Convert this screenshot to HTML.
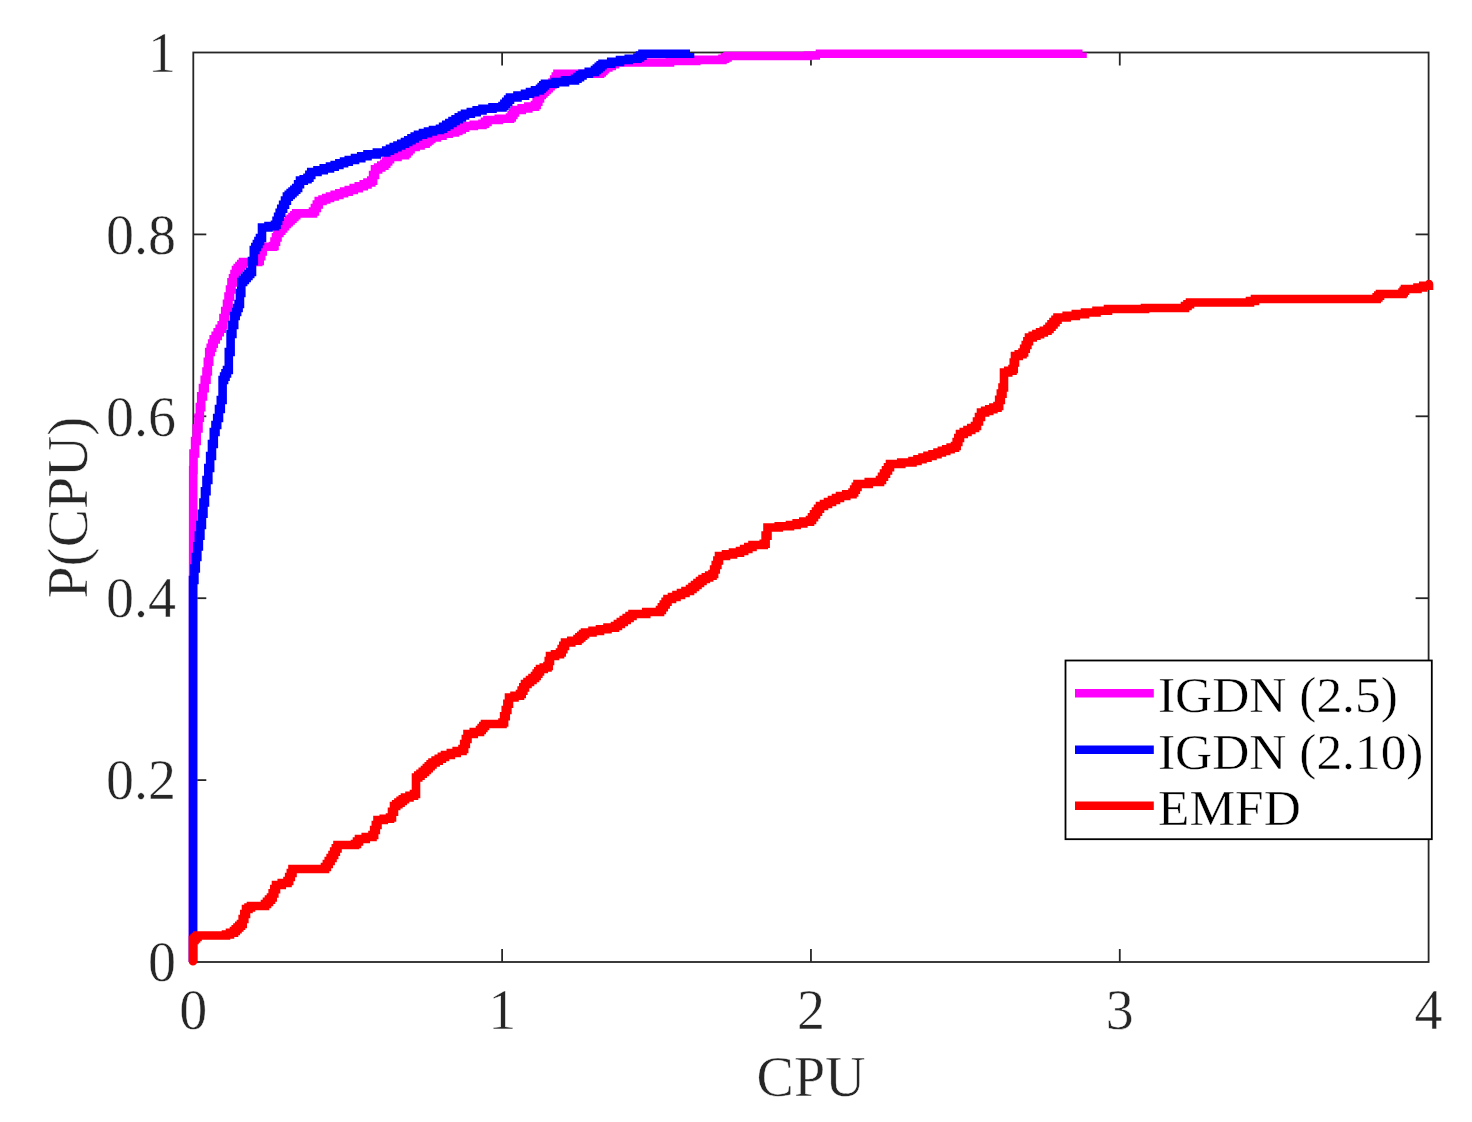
<!DOCTYPE html>
<html><head><meta charset="utf-8"><title>CPU performance profile</title>
<style>
html,body{margin:0;padding:0;background:#fff}
svg{display:block}
text{font-family:"Liberation Serif","Times New Roman",serif}
</style></head>
<body>
<svg width="1472" height="1122" viewBox="0 0 1472 1122">
<rect x="0" y="0" width="1472" height="1122" fill="#fff"/>
<g stroke="#262626" stroke-width="1.8" fill="none">
<rect x="193.3" y="52.5" width="1235.3" height="909.5"/>
<line x1="502.125" y1="962" x2="502.125" y2="949"/><line x1="502.125" y1="52.5" x2="502.125" y2="65.5"/><line x1="810.95" y1="962" x2="810.95" y2="949"/><line x1="810.95" y1="52.5" x2="810.95" y2="65.5"/><line x1="1119.77" y1="962" x2="1119.77" y2="949"/><line x1="1119.77" y1="52.5" x2="1119.77" y2="65.5"/><line x1="193.3" y1="780.1" x2="206.3" y2="780.1"/><line x1="1428.6" y1="780.1" x2="1415.6" y2="780.1"/><line x1="193.3" y1="598.2" x2="206.3" y2="598.2"/><line x1="1428.6" y1="598.2" x2="1415.6" y2="598.2"/><line x1="193.3" y1="416.3" x2="206.3" y2="416.3"/><line x1="1428.6" y1="416.3" x2="1415.6" y2="416.3"/><line x1="193.3" y1="234.4" x2="206.3" y2="234.4"/><line x1="1428.6" y1="234.4" x2="1415.6" y2="234.4"/>
</g>
<g fill="none" stroke-width="8.6" stroke-linejoin="miter" stroke-linecap="butt">
<polyline stroke="#ff00ff" points="193.00,962.00 193.20,470.00 193.50,470.00 193.50,453.50 195.10,453.50 195.10,441.00 196.70,441.00 196.70,428.50 198.50,428.50 198.50,417.80 199.85,417.80 199.85,407.10 201.20,407.10 201.20,396.40 202.97,396.40 202.97,388.10 204.73,388.10 204.73,379.80 206.50,379.80 206.50,371.50 207.85,371.50 207.85,361.75 209.20,361.75 209.20,352.00 210.70,352.00 210.70,347.80 212.20,347.80 212.20,343.60 213.70,343.60 213.70,339.40 215.70,339.40 215.70,335.85 217.70,335.85 217.70,332.30 219.70,332.30 219.70,328.75 221.70,328.75 221.70,325.20 223.47,325.20 223.47,318.07 225.23,318.07 225.23,310.93 227.00,310.93 227.00,303.80 228.50,303.80 228.50,296.67 230.00,296.67 230.00,289.53 231.50,289.53 231.50,282.40 233.00,282.40 233.00,278.27 234.50,278.27 234.50,274.13 236.00,274.13 236.00,270.00 237.75,270.00 237.75,268.00 239.50,268.00 239.50,266.00 241.25,266.00 241.25,264.00 243.00,264.00 243.00,262.00 258.20,262.00 258.20,261.00 259.70,261.00 259.70,256.23 261.20,256.23 261.20,251.47 262.70,251.47 262.70,246.70 273.00,246.70 273.00,246.00 274.50,246.00 274.50,241.67 276.00,241.67 276.00,237.33 277.50,237.33 277.50,233.00 279.38,233.00 279.38,230.75 281.25,230.75 281.25,228.50 283.12,228.50 283.12,226.25 285.00,226.25 285.00,224.00 286.88,224.00 286.88,222.25 288.75,222.25 288.75,220.50 290.62,220.50 290.62,218.75 292.50,218.75 292.50,217.00 294.38,217.00 294.38,215.20 296.25,215.20 296.25,213.40 313.00,213.40 313.00,211.50 314.92,211.50 314.92,208.00 316.83,208.00 316.83,204.50 318.75,204.50 318.75,201.00 322.50,201.00 322.50,199.50 326.25,199.50 326.25,198.00 330.00,198.00 330.00,196.50 334.69,196.50 334.69,194.88 339.38,194.88 339.38,193.25 344.06,193.25 344.06,191.62 348.75,191.62 348.75,190.00 353.75,190.00 353.75,188.13 358.75,188.13 358.75,186.27 363.75,186.27 363.75,184.40 367.50,184.40 367.50,182.50 371.25,182.50 371.25,180.60 373.12,180.60 373.12,175.00 375.00,175.00 375.00,169.40 378.13,169.40 378.13,167.52 381.27,167.52 381.27,165.63 384.40,165.63 384.40,163.75 386.27,163.75 386.27,161.50 388.13,161.50 388.13,159.25 390.00,159.25 390.00,157.00 397.50,157.00 397.50,155.20 405.00,155.20 405.00,153.40 406.87,153.40 406.87,151.27 408.73,151.27 408.73,149.13 410.60,149.13 410.60,147.00 415.60,147.00 415.60,145.33 420.60,145.33 420.60,143.67 425.60,143.67 425.60,142.00 427.48,142.00 427.48,140.50 429.37,140.50 429.37,139.00 431.25,139.00 431.25,137.50 436.88,137.50 436.88,135.62 442.50,135.62 442.50,133.75 448.75,133.75 448.75,132.38 455.00,132.38 455.00,131.00 458.33,131.00 458.33,129.33 461.67,129.33 461.67,127.67 465.00,127.67 465.00,126.00 473.75,126.00 473.75,124.88 482.50,124.88 482.50,123.75 485.00,123.75 485.00,121.88 487.50,121.88 487.50,120.00 498.75,120.00 498.75,118.75 510.00,118.75 510.00,117.50 511.67,117.50 511.67,115.00 513.33,115.00 513.33,112.50 515.00,112.50 515.00,110.00 521.67,110.00 521.67,108.33 528.33,108.33 528.33,106.67 535.00,106.67 535.00,105.00 536.67,105.00 536.67,101.67 538.33,101.67 538.33,98.33 540.00,98.33 540.00,95.00 541.67,95.00 541.67,93.33 543.33,93.33 543.33,91.67 545.00,91.67 545.00,90.00 546.88,90.00 546.88,88.12 548.75,88.12 548.75,86.25 550.62,86.25 550.62,84.38 552.50,84.38 552.50,82.50 554.17,82.50 554.17,79.58 555.83,79.58 555.83,76.67 557.50,76.67 557.50,73.75 600.00,73.75 600.00,72.50 601.67,72.50 601.67,70.83 603.33,70.83 603.33,69.17 605.00,69.17 605.00,67.50 608.33,67.50 608.33,65.83 611.67,65.83 611.67,64.17 615.00,64.17 615.00,62.50 670.00,62.50 670.00,61.00 696.25,61.00 696.25,59.88 722.50,59.88 722.50,58.75 725.00,58.75 725.00,57.38 727.50,57.38 727.50,56.00 808.00,56.00 808.00,55.50 820.00,55.50 820.00,56.00 820.00,53.75 1075.00,53.75 1082.50,53.75 1082.50,52.50"/>
<polyline stroke="#0000ff" points="193.00,962.00 193.00,580.00 194.40,580.00 194.40,568.50 195.80,568.50 195.80,557.00 197.33,557.00 197.33,546.33 198.87,546.33 198.87,535.67 200.40,535.67 200.40,525.00 201.93,525.00 201.93,513.75 203.45,513.75 203.45,502.50 204.97,502.50 204.97,491.25 206.50,491.25 206.50,480.00 208.32,480.00 208.32,468.00 210.15,468.00 210.15,456.00 211.98,456.00 211.98,444.00 213.80,444.00 213.80,432.00 215.50,432.00 215.50,425.00 217.20,425.00 217.20,418.00 219.00,418.00 219.00,409.00 220.80,409.00 220.80,400.00 222.60,400.00 222.60,380.00 224.07,380.00 224.07,376.67 225.53,376.67 225.53,373.33 227.00,373.33 227.00,370.00 228.80,370.00 228.80,352.00 230.60,352.00 230.60,334.00 232.40,334.00 232.40,325.00 234.20,325.00 234.20,316.00 235.67,316.00 235.67,312.00 237.13,312.00 237.13,308.00 238.60,308.00 238.60,304.00 239.95,304.00 239.95,293.00 241.30,293.00 241.30,282.00 243.08,282.00 243.08,280.00 244.86,280.00 244.86,278.00 246.64,278.00 246.64,276.00 248.42,276.00 248.42,274.00 250.20,274.00 250.20,272.00 252.00,272.00 252.00,261.00 253.80,261.00 253.80,250.00 255.35,250.00 255.35,247.00 256.90,247.00 256.90,244.00 258.45,244.00 258.45,241.00 260.00,241.00 260.00,238.00 262.00,238.00 262.00,227.50 268.50,227.50 268.50,226.10 275.00,226.10 275.00,224.70 276.56,224.70 276.56,220.71 278.12,220.71 278.12,216.72 279.69,216.72 279.69,212.74 281.25,212.74 281.25,208.75 283.13,208.75 283.13,204.70 285.02,204.70 285.02,200.65 286.90,200.65 286.90,196.60 288.77,196.60 288.77,194.88 290.64,194.88 290.64,193.16 292.51,193.16 292.51,191.44 294.38,191.44 294.38,189.72 296.25,189.72 296.25,188.00 298.12,188.00 298.12,184.30 300.00,184.30 300.00,180.60 303.75,180.60 303.75,179.20 307.50,179.20 307.50,177.80 309.38,177.80 309.38,174.90 311.25,174.90 311.25,172.00 317.50,172.00 317.50,170.20 323.75,170.20 323.75,168.40 330.00,168.40 330.00,166.60 334.69,166.60 334.69,164.95 339.38,164.95 339.38,163.30 344.06,163.30 344.06,161.65 348.75,161.65 348.75,160.00 355.00,160.00 355.00,158.13 361.25,158.13 361.25,156.27 367.50,156.27 367.50,154.40 376.88,154.40 376.88,152.50 386.25,152.50 386.25,150.60 390.00,150.60 390.00,148.88 393.75,148.88 393.75,147.16 397.50,147.16 397.50,145.44 401.25,145.44 401.25,143.72 405.00,143.72 405.00,142.00 408.25,142.00 408.25,140.18 411.50,140.18 411.50,138.35 414.75,138.35 414.75,136.52 418.00,136.52 418.00,134.70 423.00,134.70 423.00,133.13 428.00,133.13 428.00,131.57 433.00,131.57 433.00,130.00 440.00,130.00 440.00,128.75 443.12,128.75 443.12,126.81 446.25,126.81 446.25,124.88 449.38,124.88 449.38,122.94 452.50,122.94 452.50,121.00 455.62,121.00 455.62,119.19 458.75,119.19 458.75,117.38 461.88,117.38 461.88,115.56 465.00,115.56 465.00,113.75 470.83,113.75 470.83,112.08 476.67,112.08 476.67,110.42 482.50,110.42 482.50,108.75 492.50,108.75 492.50,107.38 502.50,107.38 502.50,106.00 504.38,106.00 504.38,103.88 506.25,103.88 506.25,101.75 508.12,101.75 508.12,99.62 510.00,99.62 510.00,97.50 517.50,97.50 517.50,95.62 525.00,95.62 525.00,93.75 530.00,93.75 530.00,92.08 535.00,92.08 535.00,90.42 540.00,90.42 540.00,88.75 541.67,88.75 541.67,87.08 543.33,87.08 543.33,85.42 545.00,85.42 545.00,83.75 555.00,83.75 555.00,82.08 565.00,82.08 565.00,80.42 575.00,80.42 575.00,78.75 577.50,78.75 577.50,77.08 580.00,77.08 580.00,75.42 582.50,75.42 582.50,73.75 588.75,73.75 588.75,71.88 595.00,71.88 595.00,70.00 596.88,70.00 596.88,68.44 598.75,68.44 598.75,66.88 600.62,66.88 600.62,65.31 602.50,65.31 602.50,63.75 611.25,63.75 611.25,61.88 620.00,61.88 620.00,60.00 628.75,60.00 628.75,58.75 637.50,58.75 637.50,57.50 640.00,57.50 640.00,55.62 642.50,55.62 642.50,53.75 690.00,53.75 690.00,53.00"/>
<polyline stroke="#ff0000" points="193.00,961.25 193.00,940.00 194.50,940.00 194.50,938.50 196.00,938.50 196.00,937.00 197.50,937.00 197.50,935.50 226.00,935.50 226.00,934.50 230.00,934.50 230.00,932.75 234.00,932.75 234.00,931.00 235.75,931.00 235.75,929.25 237.50,929.25 237.50,927.50 239.25,927.50 239.25,925.75 241.00,925.75 241.00,924.00 242.67,924.00 242.67,919.00 244.33,919.00 244.33,914.00 246.00,914.00 246.00,909.00 248.50,909.00 248.50,907.50 251.00,907.50 251.00,906.00 265.00,906.00 265.00,904.00 267.00,904.00 267.00,901.83 269.00,901.83 269.00,899.67 271.00,899.67 271.00,897.50 272.67,897.50 272.67,893.33 274.33,893.33 274.33,889.17 276.00,889.17 276.00,885.00 281.75,885.00 281.75,883.00 287.50,883.00 287.50,881.00 289.17,881.00 289.17,877.00 290.83,877.00 290.83,873.00 292.50,873.00 292.50,869.00 325.00,869.00 325.00,867.00 326.88,867.00 326.88,864.00 328.75,864.00 328.75,861.00 330.62,861.00 330.62,858.00 332.50,858.00 332.50,855.00 334.17,855.00 334.17,851.67 335.83,851.67 335.83,848.33 337.50,848.33 337.50,845.00 355.00,845.00 355.00,844.00 357.00,844.00 357.00,841.50 359.00,841.50 359.00,839.00 365.75,839.00 365.75,837.00 372.50,837.00 372.50,835.00 374.17,835.00 374.17,830.00 375.83,830.00 375.83,825.00 377.50,825.00 377.50,820.00 383.75,820.00 383.75,818.75 390.00,818.75 390.00,817.50 392.00,817.50 392.00,811.75 394.00,811.75 394.00,806.00 396.20,806.00 396.20,804.30 398.40,804.30 398.40,802.60 400.60,802.60 400.60,800.90 402.80,800.90 402.80,799.20 405.00,799.20 405.00,797.50 409.50,797.50 409.50,795.75 414.00,795.75 414.00,794.00 416.00,794.00 416.00,777.50 418.25,777.50 418.25,775.62 420.50,775.62 420.50,773.75 422.75,773.75 422.75,771.88 425.00,771.88 425.00,770.00 426.88,770.00 426.88,768.12 428.75,768.12 428.75,766.25 430.62,766.25 430.62,764.38 432.50,764.38 432.50,762.50 435.62,762.50 435.62,760.62 438.75,760.62 438.75,758.75 441.88,758.75 441.88,756.88 445.00,756.88 445.00,755.00 450.83,755.00 450.83,753.00 456.67,753.00 456.67,751.00 462.50,751.00 462.50,749.00 464.17,749.00 464.17,744.00 465.83,744.00 465.83,739.00 467.50,739.00 467.50,734.00 473.75,734.00 473.75,732.00 480.00,732.00 480.00,730.00 481.67,730.00 481.67,728.00 483.33,728.00 483.33,726.00 485.00,726.00 485.00,724.00 502.50,724.00 502.50,722.50 504.12,722.50 504.12,716.25 505.75,716.25 505.75,710.00 507.38,710.00 507.38,703.75 509.00,703.75 509.00,697.50 514.50,697.50 514.50,695.75 520.00,695.75 520.00,694.00 521.67,694.00 521.67,690.67 523.33,690.67 523.33,687.33 525.00,687.33 525.00,684.00 527.50,684.00 527.50,682.00 530.00,682.00 530.00,680.00 532.50,680.00 532.50,678.00 535.00,678.00 535.00,676.00 536.67,676.00 536.67,673.67 538.33,673.67 538.33,671.33 540.00,671.33 540.00,669.00 543.75,669.00 543.75,667.50 547.50,667.50 547.50,666.00 548.75,666.00 548.75,661.00 550.00,661.00 550.00,656.00 555.00,656.00 555.00,654.25 560.00,654.25 560.00,652.50 561.67,652.50 561.67,649.17 563.33,649.17 563.33,645.83 565.00,645.83 565.00,642.50 571.25,642.50 571.25,640.75 577.50,640.75 577.50,639.00 579.38,639.00 579.38,637.38 581.25,637.38 581.25,635.75 583.12,635.75 583.12,634.12 585.00,634.12 585.00,632.50 592.50,632.50 592.50,630.88 600.00,630.88 600.00,629.25 607.50,629.25 607.50,627.62 615.00,627.62 615.00,626.00 617.92,626.00 617.92,624.00 620.83,624.00 620.83,622.00 623.75,622.00 623.75,620.00 626.67,620.00 626.67,618.00 629.58,618.00 629.58,616.00 632.50,616.00 632.50,614.00 646.25,614.00 646.25,612.00 660.00,612.00 660.00,610.00 661.88,610.00 661.88,607.25 663.75,607.25 663.75,604.50 665.62,604.50 665.62,601.75 667.50,601.75 667.50,599.00 672.00,599.00 672.00,597.00 676.50,597.00 676.50,595.00 681.00,595.00 681.00,593.00 685.50,593.00 685.50,591.00 690.00,591.00 690.00,589.00 692.50,589.00 692.50,587.00 695.00,587.00 695.00,585.00 697.50,585.00 697.50,583.00 700.00,583.00 700.00,581.00 702.50,581.00 702.50,579.00 705.83,579.00 705.83,577.33 709.17,577.33 709.17,575.67 712.50,575.67 712.50,574.00 714.12,574.00 714.12,569.50 715.75,569.50 715.75,565.00 717.38,565.00 717.38,560.50 719.00,560.50 719.00,556.00 726.00,556.00 726.00,554.33 733.00,554.33 733.00,552.67 740.00,552.67 740.00,551.00 744.17,551.00 744.17,549.00 748.33,549.00 748.33,547.00 752.50,547.00 752.50,545.00 763.75,545.00 763.75,543.75 765.62,543.75 765.62,535.62 767.50,535.62 767.50,527.50 778.75,527.50 778.75,526.25 790.00,526.25 790.00,525.00 796.67,525.00 796.67,523.33 803.33,523.33 803.33,521.67 810.00,521.67 810.00,520.00 812.00,520.00 812.00,517.20 814.00,517.20 814.00,514.40 816.00,514.40 816.00,511.60 818.00,511.60 818.00,508.80 820.00,508.80 820.00,506.00 824.00,506.00 824.00,504.00 828.00,504.00 828.00,502.00 832.00,502.00 832.00,500.00 836.00,500.00 836.00,498.00 840.00,498.00 840.00,496.00 846.25,496.00 846.25,494.25 852.50,494.25 852.50,492.50 854.17,492.50 854.17,489.67 855.83,489.67 855.83,486.83 857.50,486.83 857.50,484.00 868.75,484.00 868.75,482.00 880.00,482.00 880.00,480.00 882.00,480.00 882.00,476.80 884.00,476.80 884.00,473.60 886.00,473.60 886.00,470.40 888.00,470.40 888.00,467.20 890.00,467.20 890.00,464.00 901.25,464.00 901.25,462.50 912.50,462.50 912.50,461.00 917.50,461.00 917.50,459.30 922.50,459.30 922.50,457.60 927.50,457.60 927.50,455.90 932.50,455.90 932.50,454.20 937.50,454.20 937.50,452.50 941.88,452.50 941.88,450.88 946.25,450.88 946.25,449.25 950.62,449.25 950.62,447.62 955.00,447.62 955.00,446.00 956.67,446.00 956.67,442.00 958.33,442.00 958.33,438.00 960.00,438.00 960.00,434.00 963.75,434.00 963.75,432.00 967.50,432.00 967.50,430.00 971.25,430.00 971.25,428.00 975.00,428.00 975.00,426.00 977.00,426.00 977.00,421.50 979.00,421.50 979.00,417.00 981.00,417.00 981.00,412.50 985.12,412.50 985.12,410.88 989.25,410.88 989.25,409.25 993.38,409.25 993.38,407.62 997.50,407.62 997.50,406.00 999.17,406.00 999.17,399.83 1000.83,399.83 1000.83,393.67 1002.50,393.67 1002.50,387.50 1004.00,387.50 1004.00,372.50 1008.25,372.50 1008.25,370.75 1012.50,370.75 1012.50,369.00 1013.75,369.00 1013.75,362.50 1015.00,362.50 1015.00,356.00 1018.75,356.00 1018.75,354.25 1022.50,354.25 1022.50,352.50 1024.12,352.50 1024.12,348.75 1025.75,348.75 1025.75,345.00 1027.38,345.00 1027.38,341.25 1029.00,341.25 1029.00,337.50 1032.70,337.50 1032.70,335.80 1036.40,335.80 1036.40,334.10 1040.10,334.10 1040.10,332.40 1043.80,332.40 1043.80,330.70 1047.50,330.70 1047.50,329.00 1049.50,329.00 1049.50,326.70 1051.50,326.70 1051.50,324.40 1053.50,324.40 1053.50,322.10 1055.50,322.10 1055.50,319.80 1057.50,319.80 1057.50,317.50 1066.67,317.50 1066.67,315.83 1075.83,315.83 1075.83,314.17 1085.00,314.17 1085.00,312.50 1096.50,312.50 1096.50,310.75 1108.00,310.75 1108.00,309.00 1145.00,309.00 1145.00,308.00 1185.00,308.00 1185.00,306.00 1187.50,306.00 1187.50,304.25 1190.00,304.25 1190.00,302.50 1250.00,302.50 1250.00,301.00 1255.00,301.00 1255.00,299.00 1375.00,299.00 1376.67,299.00 1376.67,297.33 1378.33,297.33 1378.33,295.67 1380.00,295.67 1380.00,294.00 1402.50,294.00 1402.50,292.50 1403.75,292.50 1403.75,290.75 1405.00,290.75 1405.00,289.00 1417.50,289.00 1417.50,287.50 1423.25,287.50 1423.25,285.75 1429.00,285.75 1429.00,284.00" stroke-linecap="round"/>
</g>
<g font-size="56px" fill="#262626" stroke="#fff" stroke-width="0.45">
<text x="193.3" y="1029" text-anchor="middle">0</text><text x="502.125" y="1029" text-anchor="middle">1</text><text x="810.95" y="1029" text-anchor="middle">2</text><text x="1119.77" y="1029" text-anchor="middle">3</text><text x="1428.6" y="1029" text-anchor="middle">4</text>
<text x="176" y="981.2" text-anchor="end">0</text><text x="176" y="799.3" text-anchor="end">0.2</text><text x="176" y="617.4" text-anchor="end">0.4</text><text x="176" y="435.5" text-anchor="end">0.6</text><text x="176" y="253.6" text-anchor="end">0.8</text><text x="176" y="71.7" text-anchor="end">1</text>
<text x="811" y="1095.5" text-anchor="middle">CPU</text>
<text transform="translate(87,507.5) rotate(-90) scale(1.025,1)" text-anchor="middle">P(CPU)</text>
</g>
<g>
<rect x="1065.5" y="660.5" width="366.3" height="178.7" fill="#fff" stroke="#000" stroke-width="1.8"/>
<line x1="1075" y1="693.3" x2="1153.8" y2="693.3" stroke="#ff00ff" stroke-width="8.4"/>
<line x1="1075" y1="749.8" x2="1153.8" y2="749.8" stroke="#0000ff" stroke-width="8.4"/>
<line x1="1075" y1="805.8" x2="1153.8" y2="805.8" stroke="#ff0000" stroke-width="8.4"/>
<g font-size="51.4px" fill="#000" stroke="#fff" stroke-width="0.4">
<text x="1158" y="712">IGDN (2.5)</text>
<text x="1158" y="768.5">IGDN (2.10)</text>
<text x="1158" y="824.5">EMFD</text>
</g>
</g>
</svg>
</body></html>
